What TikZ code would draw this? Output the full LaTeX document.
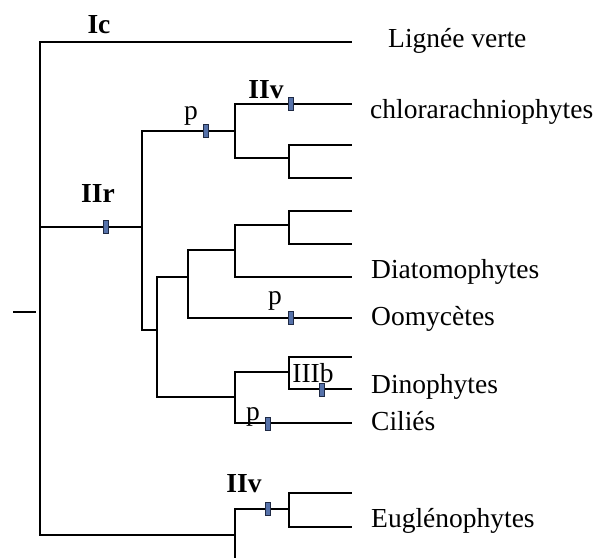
\documentclass[tikz,border=0pt]{standalone}
\usepackage{fontspec}
\setmainfont{Liberation Serif}
\usetikzlibrary{positioning}
\definecolor{eventblue}{HTML}{5672AA}
\definecolor{eventedge}{HTML}{1F2A44}

\begin{document}
\begin{tikzpicture}[
    x=1pt, y=-1pt,
    br/.style={line width=1.8pt},
    evt/.style={draw=eventedge, fill=eventblue, line width=0.9pt, minimum width=5pt, minimum height=13pt, inner sep=0pt},
    taxon/.style={anchor=base west, inner sep=0pt, font=\fontsize{27.5}{30}\selectfont},
    clade/.style={anchor=base, inner sep=0pt, font=\fontsize{27.5}{30}\selectfont\bfseries},
    plast/.style={anchor=base, inner sep=0pt, font=\fontsize{27.5}{30}\selectfont},
]
\useasboundingbox (0,0) rectangle (601,558);

% Internal nodes
\coordinate (A) at (40,312);
\coordinate (B) at (142,227);
\coordinate (P) at (235,131);
\coordinate (Q) at (289,158);
\coordinate (C) at (157,330);
\coordinate (D) at (188,277);
\coordinate (G) at (235,250);
\coordinate (H) at (289,225);
\coordinate (F) at (235,397);
\coordinate (I) at (289,372);
\coordinate (E) at (235,535);
\coordinate (J) at (289,509);

% Tips
\coordinate (lv) at (352,42);
\coordinate (chl) at (352,104);
\coordinate (q1) at (352,145);
\coordinate (q2) at (352,178);
\coordinate (h1) at (352,211);
\coordinate (h2) at (352,244);
\coordinate (dia) at (352,277);
\coordinate (oom) at (352,318);
\coordinate (din1) at (352,357);
\coordinate (din2) at (352,389);
\coordinate (cil) at (352,423);
\coordinate (eug1) at (352,493);
\coordinate (eug2) at (352,527);
\coordinate (cut) at (235,558);

% Root stub
\coordinate (stub) at (13,312);
\coordinate (stubend) at (36,312);
\draw[br] (stub) -- (stubend);

% Branches
\foreach \a/\b in {A/lv, A/B, A/E, B/P, B/C, P/chl, P/Q, Q/q1, Q/q2,
    C/D, C/F, D/G, D/oom, G/H, G/dia, H/h1, H/h2,
    F/I, F/cil, I/din1, I/din2, E/J, E/cut, J/eug1, J/eug2} {
    \draw[br] (\a) |- (\b);
}

% Endosymbiosis events
\node[evt] (eIIr) at (106,227) {};
\node[evt] (ep1) at (206,131) {};
\node[evt] (eIIv1) at (291,104) {};
\node[evt] (ep2) at (291,318) {};
\node[evt] (eIIIb) at (322,390) {};
\node[evt] (ep3) at (268,424) {};
\node[evt] (eIIv2) at (268,509) {};

\node[clade] at (99,33) {Ic};
\node[clade] at (98,202) {IIr};
\node[clade] at (266,98) {IIv};
\node[clade] at (244,492) {IIv};
\node[plast] at (191,119) {p};
\node[plast] at (275,304) {p};
\node[plast] at (253,420) {p};
\node[plast] at (313,382) {IIIb};

% Taxa
\node[taxon] at (388,47) {Lignée verte};
\node[taxon] at (370,118) {chlorarachniophytes};
\node[taxon] at (371,278) {Diatomophytes};
\node[taxon] at (371,325) {Oomycètes};
\node[taxon] at (371,393) {Dinophytes};
\node[taxon] at (371,430) {Ciliés};
\node[taxon] at (371,527) {Euglénophytes};

\end{tikzpicture}
\end{document}
